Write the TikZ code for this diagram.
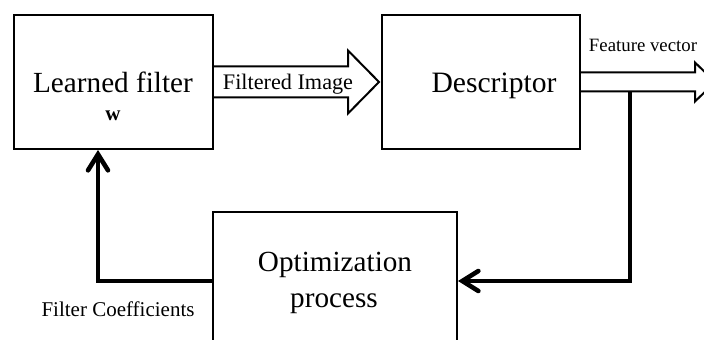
\documentclass[tikz,border=0pt]{standalone}
\usepackage{fontspec}
\setmainfont{Liberation Serif}
\usetikzlibrary{arrows.meta,calc}
\begin{document}
\begin{tikzpicture}[x=0.5pt,y=-0.5pt,
    box/.style={draw,line width=1pt,inner sep=0pt},
    hollow/.style={draw,line width=1pt,line join=miter},
    feedback/.style={line width=2.3pt,-{Straight Barb[length=8pt,width=10pt,line cap=round]}}]
    \useasboundingbox (0,0) rectangle (704,340);

    % Bloques
    \node[box,minimum width=99.5pt,minimum height=67pt] (filt) at (113.5,82) {};
    \node[box,minimum width=99pt,minimum height=67pt] (desc) at (481,82) {};
    \node[box,minimum width=122pt,minimum height=69pt] (opt) at (335,281) {};

    % Textos
    \node[anchor=base,font=\fontsize{14.6}{17}\selectfont] (filttext) at (113,93) {Learned filter};
    \node[anchor=base,font=\fontsize{10.5}{12}\selectfont\bfseries] (wtext) at (113,121) {w};
    \node[anchor=base,font=\fontsize{14.8}{17}\selectfont] (desctext) at (494,93) {Descriptor};
    \node[anchor=base,font=\fontsize{14.6}{17}\selectfont] (opttext) at (335,272) {Optimization};
    \node[anchor=base,font=\fontsize{14.6}{17}\selectfont] (proctext) at (334,308) {process};
    \node[anchor=base,font=\fontsize{11.1}{13}\selectfont] (imgtext) at (288,90) {Filtered Image};
    \node[anchor=base,font=\fontsize{9.4}{11}\selectfont] (fvtext) at (643,52) {Feature vector};
    \node[anchor=base,font=\fontsize{10.5}{12}\selectfont] (coeftext) at (118,317) {Filter Coefficients};

    % Flechas huecas
    \draw[hollow] ($(filt.east)+(0,-15.5)$) -- ($(desc.west)+(-33,-15.5)$)
        -- ($(desc.west)+(-33,-31.5)$) -- ($(desc.west)+(-2,0)$)
        -- ($(desc.west)+(-33,31.5)$) -- ($(desc.west)+(-33,15.5)$)
        -- ($(filt.east)+(0,15.5)$);
    \coordinate (fvtip) at (715,82);
    \draw[hollow] ($(desc.east)+(0,-9.5)$) -- ($(fvtip)+(-20,-9.5)$)
        -- ($(fvtip)+(-20,-19.5)$) -- (fvtip)
        -- ($(fvtip)+(-20,19.5)$) -- ($(fvtip)+(-20,9.5)$)
        -- ($(desc.east)+(0,9.5)$);

    % Realimentacion
    \coordinate (branch) at (630,91.5);
    \draw[feedback] (branch) |- (opt.east);
    \draw[feedback] (opt.west) -| ($(filt.south)+(-15.5,0)$);
\end{tikzpicture}
\end{document}
